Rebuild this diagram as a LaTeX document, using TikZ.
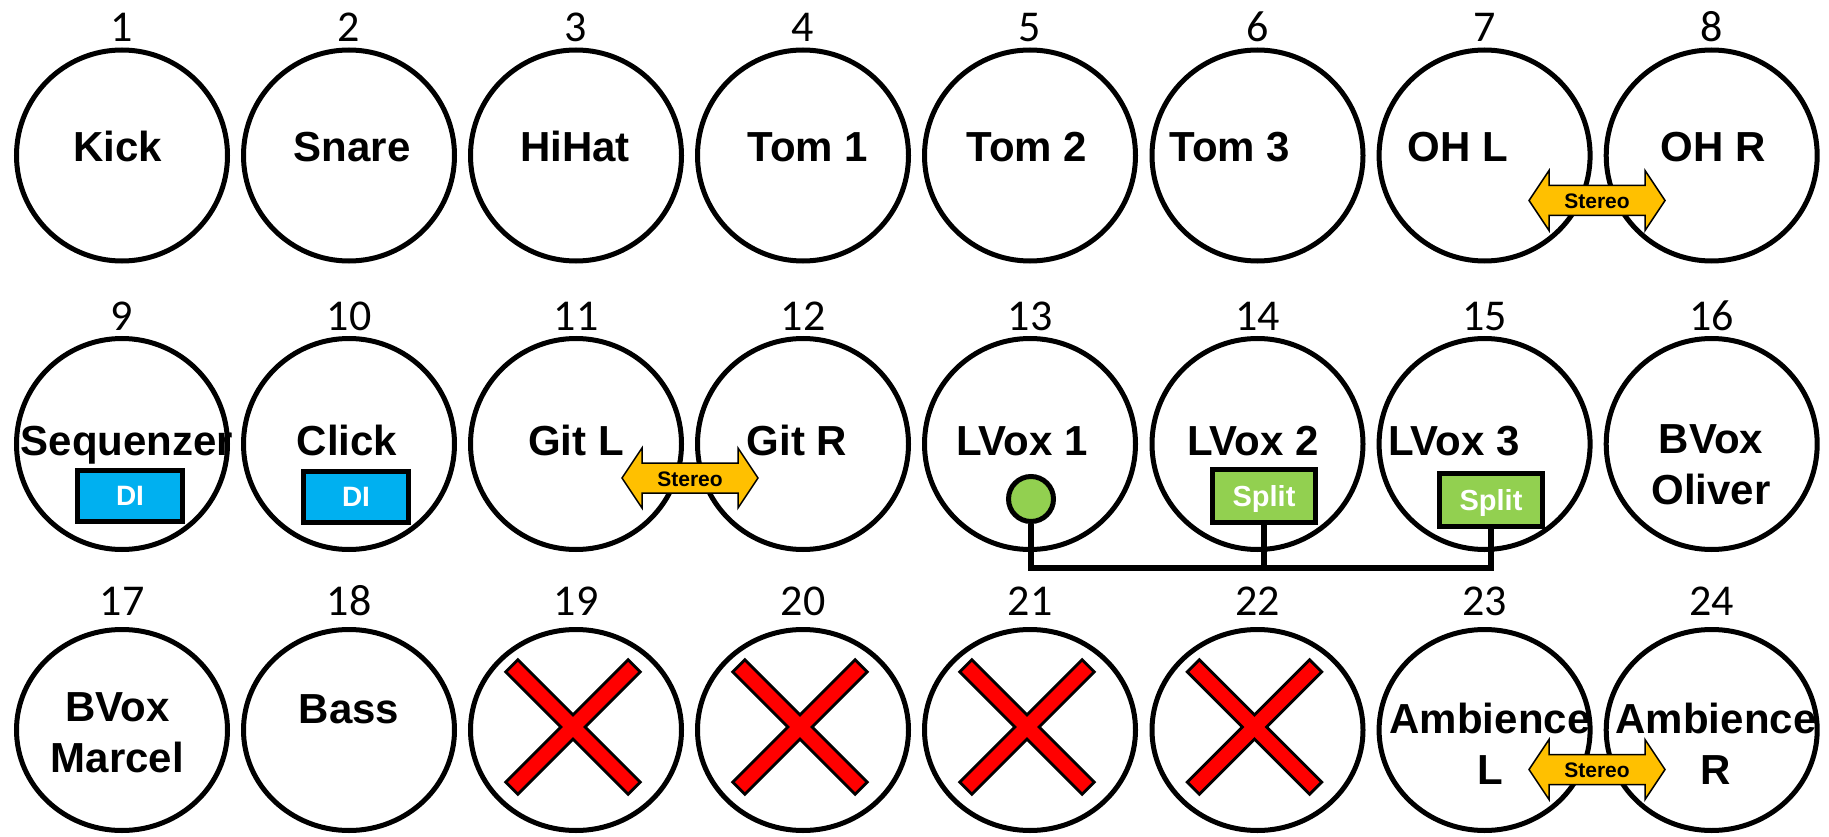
\documentclass[tikz,border=0pt]{standalone}
\usepackage{fontspec}
\setmainfont{Liberation Sans}
\newfontfamily\numfont{Carlito}
\usetikzlibrary{shapes.geometric}
\definecolor{diblue}{HTML}{00B0F0}
\definecolor{splitgreen}{HTML}{92D050}
\definecolor{stereogold}{HTML}{FFC000}
\begin{document}
\begin{tikzpicture}[x=1pt,y=-1pt,
  ch/.style={circle, draw=black, line width=5pt, minimum size=211pt, inner sep=0pt},
  chlow/.style={ellipse, draw=black, line width=5pt, minimum width=211pt, minimum height=201pt, inner sep=0pt},
  lbl/.style={font=\fontsize{42}{51}\selectfont\bfseries, align=center, inner sep=0pt},
  num/.style={font=\numfont\fontsize{44}{44}\selectfont, anchor=base, inner sep=0pt},
  dibox/.style={draw=black, line width=5pt, fill=diblue, minimum width=105pt, minimum height=51pt, inner sep=0pt, text depth=0pt, font=\fontsize{28}{28}\selectfont\bfseries, text=white},
  splitbox/.style={draw=black, line width=5pt, fill=splitgreen, minimum width=103pt, minimum height=53pt, inner sep=0pt, text depth=0pt, font=\fontsize{29}{29}\selectfont\bfseries, text=white},
  dot/.style={circle, draw=black, line width=5pt, fill=splitgreen, minimum size=45pt, inner sep=0pt},
  wire/.style={line width=5.5pt},
  stereo/.pic={
    \path[draw=black, line width=1.5pt, fill=stereogold, line join=miter]
      (-68,0) -- (-48,-30) -- (-48,-15) -- (48,-15) -- (48,-30) -- (68,0)
      -- (48,30) -- (48,15) -- (-48,15) -- (-48,30) -- cycle;
    \node[font=\fontsize{21}{21}\selectfont\bfseries, inner sep=0pt] (-t) at (0,1) {Stereo};
  },
  cross/.pic={
    \begin{scope}[rotate=45]
      \fill[black] (-88,-10) rectangle (88,10);
      \fill[black] (-10,-88) rectangle (10,88);
      \fill[red] (-85,-7) rectangle (85,7);
      \fill[red] (-7,-85) rectangle (7,85);
    \end{scope}
  }
]
\useasboundingbox[fill=white] (0,0) rectangle (1829,837);

% circles and numbers
\foreach \n/\x in {1/122,2/349,3/576,4/803,5/1030,6/1257.5,7/1484.6,8/1711.7}{
  \node[ch] (c\n) at (\x,155.5) {};
  \node[num] (n\n) at (\x,42) {\n};
}
\foreach \n/\x in {9/122,10/349,11/576,12/803,13/1030,14/1257.5,15/1484.6,16/1711.7}{
  \node[ch] (c\n) at (\x,444) {};
  \node[num] (n\n) at (\x,330.5) {\n};
}
\foreach \n/\x in {17/122,18/349,19/576,20/803,21/1030,22/1257.5,23/1484.6,24/1711.7}{
  \node[chlow] (c\n) at (\x,730) {};
  \node[num] (n\n) at (\x,615) {\n};
}

% row 1 labels
\node[lbl, anchor=base] (l1) at (118,162) {Kick};
\node[lbl, anchor=base] (l2) at (352,162) {Snare};
\node[lbl, anchor=base] (l3) at (575,162) {HiHat};
\node[lbl, anchor=base] (l4) at (808,162) {Tom 1};
\node[lbl, anchor=base] (l5) at (1027,162) {Tom 2};
\node[lbl, anchor=base] (l6) at (1230,162) {Tom 3};
\node[lbl, anchor=base] (l7) at (1458,162) {OH L};
\node[lbl, anchor=base] (l8) at (1713,162) {OH R};

% row 2 labels
\node[lbl, anchor=base] (l9) at (127,455) {Sequenzer};
\node[lbl, anchor=base] (l10) at (347,455) {Click};
\node[lbl, anchor=base] (l11) at (576,455) {Git L};
\node[lbl, anchor=base] (l12) at (797,455) {Git R};
\node[lbl, anchor=base] (l13) at (1022,455) {LVox 1};
\node[lbl, anchor=base] (l14) at (1253,455) {LVox 2};
\node[lbl, anchor=base] (l15) at (1454,455) {LVox 3};
\node[lbl] (l16) at (1711,465) {BVox\\Oliver};

% row 3 labels
\node[lbl] (l17) at (117.5,732.5) {BVox\\Marcel};
\node[lbl, anchor=base] (l18) at (349,723) {Bass};
\node[lbl] (l23) at (1490,744) {Ambience\\L};
\node[lbl] (l24) at (1716,744) {Ambience\\R};

% crosses
\pic (x19) at (573,727) {cross};
\pic (x20) at (800,727) {cross};
\pic (x21) at (1027,727) {cross};
\pic (x22) at (1254.5,727) {cross};

% DI boxes
\node[dibox] (di9) at (130,496) {DI};
\node[dibox] (di10) at (356,497) {DI};

% LVox link
\node[dot] (g13) at (1031,499) {};
\node[splitbox] (s14) at (1264,496) {Split};
\node[splitbox] (s15) at (1491,500) {Split};
\coordinate (bus) at (1031,568);
\draw[wire] (g13.south) -- (g13.south |- bus) -- (s15.south |- bus) -- (s15.south);
\draw[wire] (s14.south) -- (s14.south |- bus);

% stereo arrows
\pic (st78) at (1597,200.5) {stereo};
\pic (st1112) at (690,478) {stereo};
\pic (st2324) at (1597,769.5) {stereo};
\end{tikzpicture}
\end{document}
